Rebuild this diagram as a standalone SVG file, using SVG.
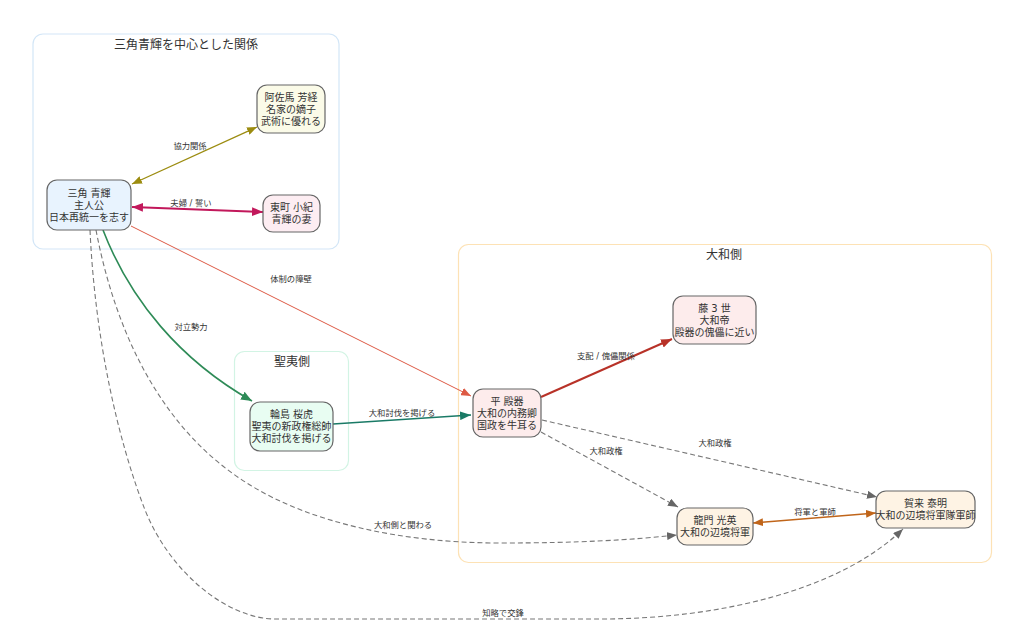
<svg xmlns="http://www.w3.org/2000/svg" width="1024" height="644" viewBox="0 0 1024 644">
<style>
text{font-family:"DejaVu Sans","Noto Sans CJK JP","Noto Sans CJK SC",sans-serif;fill:#333;text-anchor:middle}
.ct{font-size:12px}
.nt{font-size:10px}
.lt{font-size:8.3px}
.cl{fill:#fff;stroke-width:1.2}
.nd{stroke:#666;stroke-width:1.2}
.e{fill:none}
.dash{stroke:#777;stroke-width:1.1;stroke-dasharray:5,3}
</style>
<defs>
<marker id="aOl" viewBox="0 0 10 8" refX="10" refY="4" markerWidth="10" markerHeight="8" markerUnits="userSpaceOnUse" orient="auto-start-reverse"><path d="M0,0L10,4L0,8z" fill="#9c8c10"/></marker>
<marker id="aCr" viewBox="0 0 10 8" refX="10" refY="4" markerWidth="11" markerHeight="9" markerUnits="userSpaceOnUse" orient="auto-start-reverse"><path d="M0,0L10,4L0,8z" fill="#c2185b"/></marker>
<marker id="aRd" viewBox="0 0 10 8" refX="10" refY="4" markerWidth="10" markerHeight="8" markerUnits="userSpaceOnUse" orient="auto"><path d="M0,0L10,4L0,8z" fill="#dd5a44"/></marker>
<marker id="aDr" viewBox="0 0 10 8" refX="10" refY="4" markerWidth="11" markerHeight="9" markerUnits="userSpaceOnUse" orient="auto"><path d="M0,0L10,4L0,8z" fill="#b83228"/></marker>
<marker id="aGr" viewBox="0 0 10 8" refX="10" refY="4" markerWidth="11" markerHeight="9" markerUnits="userSpaceOnUse" orient="auto"><path d="M0,0L10,4L0,8z" fill="#2e8b57"/></marker>
<marker id="aTl" viewBox="0 0 10 8" refX="10" refY="4" markerWidth="11" markerHeight="9" markerUnits="userSpaceOnUse" orient="auto"><path d="M0,0L10,4L0,8z" fill="#1a7a66"/></marker>
<marker id="aGy" viewBox="0 0 10 8" refX="10" refY="4" markerWidth="10" markerHeight="8" markerUnits="userSpaceOnUse" orient="auto"><path d="M0,0L10,4L0,8z" fill="#666"/></marker>
<marker id="aOr" viewBox="0 0 10 8" refX="10" refY="4" markerWidth="10" markerHeight="8" markerUnits="userSpaceOnUse" orient="auto-start-reverse"><path d="M0,0L10,4L0,8z" fill="#c0651a"/></marker>
</defs>
<rect width="1024" height="644" fill="#fff"/>
<g id="clusters">
<g id="cluster-main"><rect class="cl" x="33" y="34" width="306" height="215" rx="10" stroke="#d3e6f7"/><text class="ct" x="186" y="49">三角青輝を中心とした関係</text></g>
<g id="cluster-yamato"><rect class="cl" x="458.5" y="244.5" width="533" height="318" rx="10" stroke="#fde2b5"/><text class="ct" x="724" y="259">大和側</text></g>
<g id="cluster-seii"><rect class="cl" x="234.5" y="351.5" width="114" height="119" rx="10" stroke="#d2f4e4"/><text class="ct" x="292" y="366">聖夷側</text></g>
</g>
<g id="connectors">
<path class="e" d="M132,184L257,127" stroke="#9c8c10" stroke-width="1.3" marker-start="url(#aOl)" marker-end="url(#aOl)"/>
<text class="lt" x="190" y="149">協力関係</text>
<path class="e" d="M132,207L263,212" stroke="#c2185b" stroke-width="2" marker-start="url(#aCr)" marker-end="url(#aCr)"/>
<text class="lt" x="191" y="206">夫婦 / 誓い</text>
<path class="e" d="M131,226L471,396" stroke="#dd5a44" stroke-width="1" marker-end="url(#aRd)"/>
<text class="lt" x="291" y="282">体制の障壁</text>
<path class="e" d="M103,230C130,300 180,360 252,401" stroke="#2e8b57" stroke-width="1.6" marker-end="url(#aGr)"/>
<text class="lt" x="191" y="330">対立勢力</text>
<path class="e" d="M333,424L471,415" stroke="#1a7a66" stroke-width="1.6" marker-end="url(#aTl)"/>
<text class="lt" x="402" y="416">大和討伐を掲げる</text>
<path class="e" d="M541,397L672,339" stroke="#b83228" stroke-width="2" marker-end="url(#aDr)"/>
<text class="lt" x="606" y="359">支配 / 傀儡関係</text>
<path class="e dash" d="M541,432L678,507" marker-end="url(#aGy)"/>
<text class="lt" x="606" y="454">大和政権</text>
<path class="e dash" d="M542,420L877,497" marker-end="url(#aGy)"/>
<text class="lt" x="715" y="446">大和政権</text>
<path class="e" d="M753,523L876,513" stroke="#c0651a" stroke-width="1.3" marker-start="url(#aOr)" marker-end="url(#aOr)"/>
<text class="lt" x="815" y="515">将軍と軍師</text>
<path class="e dash" d="M96,230C115,330 160,430 250,485C310,522 400,543 500,543C580,543 630,540 677,535" marker-end="url(#aGy)"/>
<text class="lt" x="403" y="528">大和側と関わる</text>
<path class="e dash" d="M90,230C95,340 118,440 145,510C170,572 225,617 273,619L600,619C720,619 840,590 903,529" marker-end="url(#aGy)"/>
<text class="lt" x="503" y="616">知略で交鋒</text>
</g>
<g id="node-misumi"><rect class="nd" x="47" y="180" width="84" height="50" rx="10" fill="#e8f3fe"/><text class="nt" x="89" y="196.5">三角 青輝<tspan x="89" dy="12">主人公</tspan><tspan x="89" dy="12">日本再統一を志す</tspan></text></g>
<g id="node-asama"><rect class="nd" x="257" y="85" width="68" height="48" rx="10" fill="#fbfbe8"/><text class="nt" x="291" y="100.5">阿佐馬 芳経<tspan x="291" dy="12">名家の嫡子</tspan><tspan x="291" dy="12">武術に優れる</tspan></text></g>
<g id="node-higashimachi"><rect class="nd" x="263" y="195" width="57" height="37" rx="10" fill="#fdedf2"/><text class="nt" x="291.5" y="211">東町 小紀<tspan x="291.5" dy="12">青輝の妻</tspan></text></g>
<g id="node-wajima"><rect class="nd" x="250" y="402" width="83" height="49" rx="10" fill="#e8fdf2"/><text class="nt" x="291.5" y="418">輪島 桜虎<tspan x="291.5" dy="12">聖夷の新政権総帥</tspan><tspan x="291.5" dy="12">大和討伐を掲げる</tspan></text></g>
<g id="node-taira"><rect class="nd" x="473" y="389" width="68" height="48" rx="10" fill="#fdecec"/><text class="nt" x="507" y="404.5">平 殿器<tspan x="507" dy="12">大和の内務卿</tspan><tspan x="507" dy="12">国政を牛耳る</tspan></text></g>
<g id="node-fuji"><rect class="nd" x="673" y="296" width="83" height="48" rx="10" fill="#fdecec"/><text class="nt" x="714.5" y="311.5">藤 3 世<tspan x="714.5" dy="12">大和帝</tspan><tspan x="714.5" dy="12">殿器の傀儡に近い</tspan></text></g>
<g id="node-ryumon"><rect class="nd" x="677" y="508" width="76" height="37" rx="10" fill="#fef3e4"/><text class="nt" x="715" y="524">龍門 光英<tspan x="715" dy="12">大和の辺境将軍</tspan></text></g>
<g id="node-kaku"><rect class="nd" x="876" y="491" width="99" height="37" rx="10" fill="#fef3e4"/><text class="nt" x="925.5" y="507">賀来 泰明<tspan x="925.5" dy="12">大和の辺境将軍隊軍師</tspan></text></g>
</svg>
